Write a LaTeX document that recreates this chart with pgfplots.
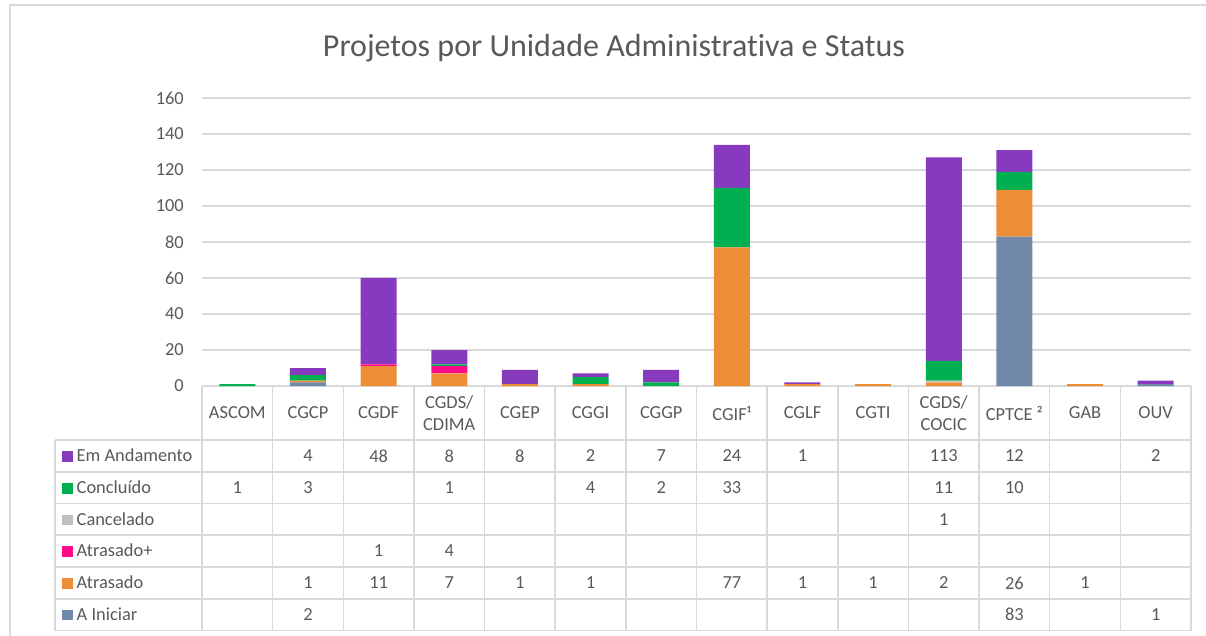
\documentclass[border=0pt]{standalone}
\usepackage{pgfplots}
\usepackage{pgfplotstable}
\pgfplotsset{compat=1.18}
\usepackage{fontspec}
\setmainfont{Carlito}[Ligatures=NoCommon]
\definecolor{txt}{HTML}{595959}
\definecolor{grd}{HTML}{D9D9D9}
\definecolor{cEm}{HTML}{873ABE}
\definecolor{cCon}{HTML}{00B050}
\definecolor{cCan}{HTML}{BFBFBF}
\definecolor{cAtP}{HTML}{FF0A87}
\definecolor{cAt}{HTML}{ED8D37}
\definecolor{cIni}{HTML}{7188A8}
\newcommand{\fs}{\fontsize{18.4}{21.6}\selectfont}
\pgfplotstableread{
x Em Con Can AtP At Ini
0 0 1 0 0 0 0
1 4 3 0 0 1 2
2 48 0 0 1 11 0
3 8 1 0 4 7 0
4 8 0 0 0 1 0
5 2 4 0 0 1 0
6 7 2 0 0 0 0
7 24 33 0 0 77 0
8 1 0 0 0 1 0
9 0 0 0 0 1 0
10 113 11 1 0 2 0
11 12 10 0 0 26 83
12 0 0 0 0 1 0
13 2 0 0 0 0 1
}\data
\pgfplotsset{tbl/.style={draw=none, mark=none, nodes near coords, point meta=explicit symbolic,
    nodes near coords align={center},
    every node near coord/.append style={anchor=center, font=\fs, text=txt, inner sep=0pt}}}
\begin{document}
\begin{tikzpicture}[x=1pt,y=1pt]
\path[use as bounding box] (0,0) rectangle (1206,635);
\draw[grd, line width=1.5pt] (10,-5) -- (10,630) -- (1210,630);
\node[anchor=base, font=\fontsize{32}{38}\selectfont, text=txt] at (614,578) {Projetos por Unidade Administrativa e Status};
\begin{axis}[
  at={(202pt,249pt)}, anchor=south west,
  scale only axis, width=989pt, height=288pt,
  xmin=-0.5, xmax=13.5, ymin=0, ymax=160,
  ybar stacked, bar width=36pt,
  axis line style={draw=none},
  ytick={0,20,...,160},
  ymajorgrids, grid style={grd, line width=1.5pt},
  major tick length=0pt,
  xtick={0,...,13},
  xticklabels={ASCOM,CGCP,CGDF,{CGDS/\\CDIMA},CGEP,CGGI,CGGP,CGIF¹,CGLF,CGTI,{CGDS/\\COCIC},CPTCE ²,GAB,OUV},
  xticklabel style={anchor=center, align=center, yshift=-27pt, font=\fs, text=txt, inner sep=0pt},
  yticklabel style={anchor=east, xshift=-18pt, font=\fs, text=txt, inner sep=0pt},
  /pgf/number format/assume math mode=true,
  clip=false,
]
\addplot[fill=cIni, draw=none] table[x=x, y=Ini] {\data};
\addplot[fill=cAt, draw=none] table[x=x, y=At] {\data};
\addplot[fill=cAtP, draw=none] table[x=x, y=AtP] {\data};
\addplot[fill=cCan, draw=none] table[x=x, y=Can] {\data};
\addplot[fill=cCon, draw=none] table[x=x, y=Con] {\data};
\addplot[fill=cEm, draw=none] table[x=x, y=Em] {\data};
\end{axis}
\begin{axis}[
  at={(202pt,249pt)}, anchor=south west,
  scale only axis, width=989pt, height=288pt,
  xmin=-0.5, xmax=13.5, ymin=0, ymax=288,
  hide axis, clip=false,
]
% Em Andamento
\addplot[tbl] coordinates {(1,-70)[4] (2,-70)[48] (3,-70)[8] (4,-70)[8] (5,-70)[2] (6,-70)[7] (7,-70)[24] (8,-70)[1] (10,-70)[113] (11,-70)[12] (13,-70)[2]};
% Concluido
\addplot[tbl] coordinates {(0,-102)[1] (1,-102)[3] (3,-102)[1] (5,-102)[4] (6,-102)[2] (7,-102)[33] (10,-102)[11] (11,-102)[10]};
% Cancelado
\addplot[tbl] coordinates {(10,-133.5)[1]};
% Atrasado+
\addplot[tbl] coordinates {(2,-165)[1] (3,-165)[4]};
% Atrasado
\addplot[tbl] coordinates {(1,-197)[1] (2,-197)[11] (3,-197)[7] (4,-197)[1] (5,-197)[1] (7,-197)[77] (8,-197)[1] (9,-197)[1] (10,-197)[2] (11,-197)[26] (12,-197)[1]};
% A Iniciar
\addplot[tbl] coordinates {(1,-228.5)[2] (11,-228.5)[83] (13,-228.5)[1]};
\end{axis}
% table grid
\begin{scope}[grd, line width=1.5pt]
\foreach \y in {195,163,131.5,100,68,36,4.3} \draw (55,\y) -- (1191,\y);
\draw (55,195) -- (55,4.3);
\foreach \k in {0,...,14} \draw ({202+70.643*\k},249) -- ({202+70.643*\k},4.3);
\end{scope}
% row labels
\foreach \yc/\col/\lab in {179/cEm/Em Andamento, 147/cCon/Concluído, 115.5/cCan/Cancelado, 84/cAtP/Atrasado+, 52/cAt/Atrasado, 20.5/cIni/A Iniciar}
  \node[anchor=base west, inner sep=0pt, font=\fs, text=txt] at (62,\yc-5.9) {\textcolor{\col}{\rule{10.5pt}{10.5pt}}\hspace{4pt}\lab};
\end{tikzpicture}
\end{document}
